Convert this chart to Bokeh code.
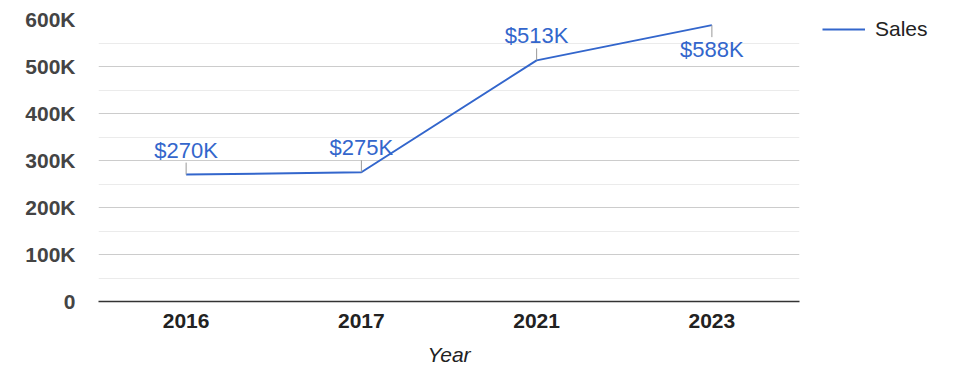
from bokeh.plotting import figure
from bokeh.models import (ColumnDataSource, FactorRange, Range1d, FixedTicker,
                          Legend, LegendItem)
from bokeh.core.properties import value
from bokeh.embed import file_html
from bokeh.resources import INLINE

years = ["2016", "2017", "2021", "2023"]
sales = [270000, 275000, 513000, 588000]
sales_labels = ["$270K", "$275K", "$513K", "$588K"]
label_side = ["above", "above", "above", "below"]
y_ticks = [0, 100000, 200000, 300000, 400000, 500000, 600000]
y_tick_labels = ["0", "100K", "200K", "300K", "400K", "500K", "600K"]
y_minor = [50000, 150000, 250000, 350000, 450000, 550000]

FONT = "Liberation Sans"
FW, FH = 701, 282
LEFT, RIGHT, TOP, BOTTOM = 98, 176, 19, 77
y_max = 600000
px = y_max / FH  # data units per screen pixel

p = figure(frame_width=FW, frame_height=FH, x_range=FactorRange(factors=years),
           y_range=Range1d(0, y_max), output_backend="svg",
           toolbar_location=None, min_border_left=LEFT, min_border_right=RIGHT,
           min_border_top=TOP, min_border_bottom=BOTTOM)
p.outline_line_color = None
p.background_fill_color = "white"

src = ColumnDataSource(dict(x=years, y=sales))
line = p.line("x", "y", source=src, line_color="#3366cc", line_width=2)

# annotations
above = [i for i, s in enumerate(label_side) if s == "above"]
below = [i for i, s in enumerate(label_side) if s == "below"]
lead = 12 * px
src_a = ColumnDataSource(dict(x=[years[i] for i in above], y=[sales[i] for i in above],
                              y1=[sales[i] + lead for i in above],
                              t=[sales_labels[i] for i in above]))
src_b = ColumnDataSource(dict(x=[years[i] for i in below], y=[sales[i] for i in below],
                              y1=[sales[i] - lead for i in below],
                              t=[sales_labels[i] for i in below]))
p.segment(x0="x", y0="y", x1="x", y1="y1", source=src_a, line_color="#999999", line_width=1)
p.segment(x0="x", y0="y", x1="x", y1="y1", source=src_b, line_color="#999999", line_width=1)
p.text(x="x", y="y1", text="t", source=src_a, text_align="center", text_baseline="bottom",
       y_offset=0, text_color="#3366cc", text_font=value(FONT), text_font_size="22px")
p.text(x="x", y="y1", text="t", source=src_b, text_align="center", text_baseline="top",
       y_offset=0, text_color="#3366cc", text_font=value(FONT), text_font_size="22px")

# axes
p.yaxis.ticker = FixedTicker(ticks=y_ticks, minor_ticks=y_minor)
p.yaxis.major_label_overrides = {t: l for t, l in zip(y_ticks, y_tick_labels)}
p.yaxis.axis_line_color = None
p.yaxis.major_tick_line_color = None
p.yaxis.minor_tick_line_color = None
p.yaxis.major_tick_out = 0
p.yaxis.major_tick_in = 0
p.yaxis.minor_tick_out = 0
p.yaxis.major_label_standoff = 23
p.yaxis.major_label_text_font = FONT
p.yaxis.major_label_text_font_style = "bold"
p.yaxis.major_label_text_font_size = "21px"
p.yaxis.major_label_text_color = "#444444"

p.xaxis.axis_line_color = "#333333"
p.xaxis.axis_line_width = 1.5
p.xaxis.major_tick_line_color = None
p.xaxis.major_tick_out = 0
p.xaxis.major_tick_in = 0
p.xaxis.major_label_standoff = 12
p.xaxis.major_label_text_font = FONT
p.xaxis.major_label_text_font_style = "bold"
p.xaxis.major_label_text_font_size = "21px"
p.xaxis.major_label_text_color = "#222222"
p.xaxis.axis_label = "Year"
p.xaxis.axis_label_text_font = FONT
p.xaxis.axis_label_text_font_style = "italic"
p.xaxis.axis_label_text_font_size = "21px"
p.xaxis.axis_label_text_color = "#222222"
p.xaxis.axis_label_standoff = 12

p.xgrid.grid_line_color = None
p.ygrid.grid_line_color = "#cccccc"
p.ygrid.minor_grid_line_color = "#ebebeb"

legend = Legend(items=[LegendItem(label="Sales", renderers=[line])],
                location=(23, FH - 22), border_line_color=None,
                background_fill_alpha=0, padding=0, margin=0, glyph_width=43,
                glyph_height=20, label_standoff=10, label_text_font=FONT,
                label_text_font_size="21px", label_text_color="#222222",
                label_height=20)
p.add_layout(legend, "right")

open("out.html", "w").write(file_html(p, INLINE))
